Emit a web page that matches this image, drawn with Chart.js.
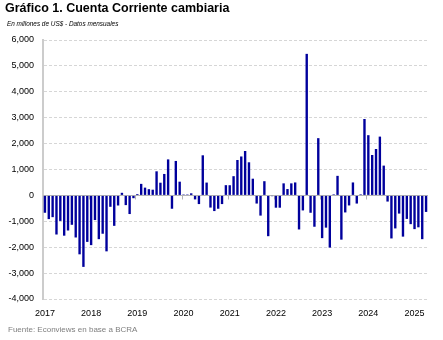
<!DOCTYPE html>
<html>
<head>
<meta charset="utf-8">
<script src="https://cdn.jsdelivr.net/npm/chart.js@4.4.1/dist/chart.umd.min.js"></script>
<style>
    html, body { margin: 0; padding: 0; background: #fff; }
    #wrap { position: relative; width: 443px; height: 340px; overflow: hidden; font-family: "Liberation Sans", Arial, sans-serif; }
    #grafico { position: absolute; left: 0; top: 0; }
    .titulo { position: absolute; left: 5px; top: 1.4px; font-size: 12.5px; font-weight: bold; line-height: 14px; white-space: nowrap; color: #000; }
    .subtitulo { position: absolute; left: 7px; top: 19.2px; font-size: 8px; font-style: italic; line-height: 10px; white-space: nowrap; transform-origin: 0 0; transform: scaleX(0.8); color: #000; }
    .fuente { position: absolute; left: 8px; top: 325px; font-size: 8px; line-height: 10px; white-space: nowrap; color: #7f7f7f; }
</style>
</head>
<body>
<div id="wrap">
    <canvas id="grafico" width="443" height="340"></canvas>
    <div class="titulo">Gráfico 1. Cuenta Corriente cambiaria</div>
    <div class="subtitulo">En millones de US$ - Datos mensuales</div>
    <div class="fuente">Fuente: Econviews en base a BCRA</div>
</div>
<script>
// ================= DATOS (millones de US$, mensual) =================
const anios = ['2017', '2018', '2019', '2020', '2021', '2022', '2023', '2024', '2025'];

const cc2017 = [-670, -915, -840, -1510, -985, -1555, -1355, -1135, -1625, -2275, -2760, -1795];
const cc2018 = [-1920, -952, -1690, -1480, -2160, -440, -1175, -390, 100, -375, -720, -108];
const cc2019 = [50, 445, 300, 240, 220, 930, 490, 828, 1390, -515, 1330, 530];
const cc2020 = [35, 35, 80, -155, -335, 1548, 495, -470, -605, -515, -335, 395];
const cc2021 = [393, 742, 1368, 1503, 1715, 1278, 645, -315, -780, 548, -1575, -30];
const cc2022 = [-475, -475, 465, 245, 465, 500, -1315, -580, 5465, -670, -1210, 2210];
const cc2023 = [-1650, -1245, -2015, 40, 755, -1708, -658, -388, 500, -315, 40, 2950];
const cc2024 = [2325, 1560, 1792, 2270, 1150, -238, -1662, -1275, -702, -1592, -908, -1110];
const cc2025 = [-1302, -1232, -1690, -638];

const valores = [].concat(cc2017, cc2018, cc2019, cc2020, cc2021, cc2022, cc2023, cc2024, cc2025);

// etiquetas mensuales (año-mes), solo se muestra el año en enero
const etiquetas = [];
anios.forEach(a => {
    for (let m = 1; m <= 12; m++) etiquetas.push(a + '-' + m);
});
etiquetas.length = valores.length;

// ================= EJE CERO Y MARCAS =================
const ejeCero = {
    id: 'ejeCero',
    beforeDatasetsDraw(chart) {
        const { ctx, chartArea, scales } = chart;
        const y0 = Math.round(scales.y.getPixelForValue(0)) + 0.5;
        ctx.save();
        ctx.strokeStyle = '#b4b4b4';
        ctx.lineWidth = 1;
        ctx.beginPath();
        ctx.moveTo(chartArea.left, y0);
        ctx.lineTo(chartArea.right, y0);
        for (let k = 12; k < etiquetas.length; k += 12) {
            const xb = Math.round((scales.x.getPixelForValue(k - 1) + scales.x.getPixelForValue(k)) / 2) + 0.5;
            ctx.moveTo(xb, y0);
            ctx.lineTo(xb, y0 + 4);
        }
        ctx.stroke();
        ctx.restore();
    }
};

// ================= GRÁFICO =================
const fuenteEjes = { family: '"Liberation Sans", Arial, sans-serif', size: 9 };

new Chart(document.getElementById('grafico'), {
    type: 'bar',
    data: {
        labels: etiquetas,
        datasets: [{
            data: valores,
            backgroundColor: '#00009c',
            borderWidth: 0,
            barPercentage: 0.62,
            categoryPercentage: 1
        }]
    },
    options: {
        responsive: false,
        animation: false,
        devicePixelRatio: 1,
        layout: { padding: { top: 40, right: 15, bottom: 0, left: 0 } },
        plugins: {
            legend: { display: false },
            tooltip: { enabled: false }
        },
        scales: {
            x: {
                type: 'category',
                offset: true,
                grid: { display: false },
                border: { display: false },
                ticks: {
                    autoSkip: false,
                    maxRotation: 0,
                    padding: 1,
                    color: '#000',
                    font: fuenteEjes,
                    callback: (v, i) => (i % 12 === 0 ? anios[i / 12] : '')
                },
                afterFit: s => { s.height = 41; }
            },
            y: {
                min: -4000,
                max: 6000,
                grid: {
                    drawTicks: false,
                    color: c => (c.tick && c.tick.value === 0 ? 'rgba(0,0,0,0)' : '#d6d6d6'),
                    lineWidth: 1
                },
                border: { display: true, color: '#cccccc', width: 2, dash: [3, 2] },
                ticks: {
                    stepSize: 1000,
                    padding: 9,
                    color: '#000',
                    font: fuenteEjes,
                    callback: v => v.toLocaleString('en-US')
                },
                afterFit: s => { s.width = 43; }
            }
        }
    },
    plugins: [ejeCero]
});
</script>
</body>
</html>
